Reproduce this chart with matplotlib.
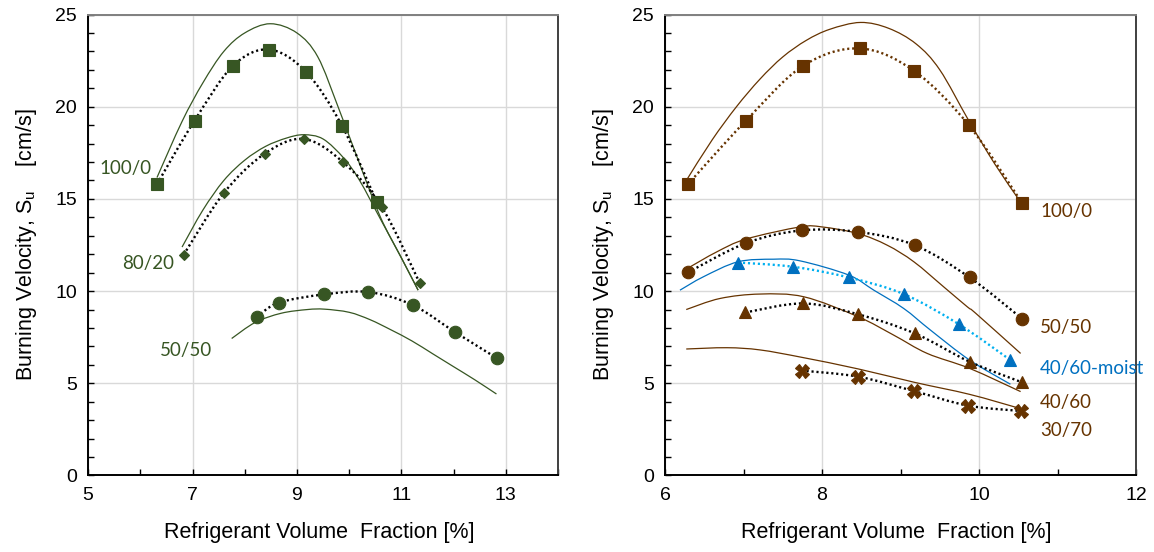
import matplotlib
matplotlib.use("Agg")
import matplotlib.pyplot as plt
import numpy as np
from matplotlib.path import Path
from matplotlib.patches import PathPatch

plt.rcParams["font.family"] = ["Liberation Sans", "DejaVu Sans"]
plt.rcParams["mathtext.fontset"] = "custom"
plt.rcParams["mathtext.rm"] = "Liberation Sans"
plt.rcParams["mathtext.it"] = "Liberation Sans"

# 配色
GREEN = "#375623"
BROWN = "#663300"
BLUE = "#0070C0"
SKY = "#00B0F0"
GRID = "#d9d9d9"
TAG_FONT = ["Lato", "DejaVu Sans"]

# ---------------- 左图 ----------------
l100_x = [6.32, 7.04, 7.77, 8.46, 9.17, 9.86, 10.53]
l100_y = [15.8, 19.25, 22.2, 23.1, 21.9, 18.98, 14.82]
l100_fit_x = [6.32, 6.8, 7.2, 7.6, 8.0, 8.49, 9.0, 9.4, 9.8, 10.2, 10.6, 11.0, 11.32]
l100_fit_y = [16.16, 19.2, 21.3, 23.0, 24.0, 24.5, 24.0, 22.7, 19.9, 16.9, 14.0, 11.8, 10.05]

l80_x = [6.83, 7.6, 8.38, 9.13, 9.88, 10.62, 11.35]
l80_y = [11.97, 15.32, 17.45, 18.25, 17.0, 14.58, 10.44]
l80_fit_x = [6.8, 7.2, 7.6, 8.0, 8.4, 8.8, 9.13, 9.5, 9.9, 10.2, 10.6, 11.0, 11.32]
l80_fit_y = [12.39, 14.4, 16.0, 17.1, 17.85, 18.3, 18.48, 18.25, 17.2, 16.0, 13.9, 11.8, 10.05]

l50_x = [8.23, 8.65, 9.52, 10.37, 11.22, 12.03, 12.83]
l50_y = [8.6, 9.37, 9.82, 9.95, 9.24, 7.77, 6.36]
l50_fit_x = [7.75, 8.2, 8.7, 9.2, 9.53, 10.0, 10.4, 10.8, 11.2, 11.6, 12.0, 12.4, 12.82]
l50_fit_y = [7.43, 8.3, 8.8, 9.0, 9.02, 8.85, 8.45, 7.9, 7.3, 6.6, 5.9, 5.2, 4.42]

# ---------------- 右图 ----------------
r100_x = [6.29, 7.03, 7.76, 8.48, 9.17, 9.87, 10.55]
r100_y = [15.79, 19.24, 22.22, 23.16, 21.95, 19.0, 14.77]
r100_fit_x = [6.28, 6.6, 6.91, 7.21, 7.5, 7.8, 8.1, 8.49, 8.85, 9.2, 9.5, 9.87, 10.2, 10.51]
r100_fit_y = [16.06, 18.2, 20.0, 21.5, 22.7, 23.6, 24.2, 24.57, 24.25, 23.4, 22.0, 19.24, 16.9, 14.95]

r50_x = [6.29, 7.03, 7.74, 8.46, 9.18, 9.88, 10.55]
r50_y = [11.01, 12.6, 13.29, 13.21, 12.49, 10.74, 8.5]
r50_fit_x = [6.285, 6.66, 7.03, 7.72, 8.0, 8.46, 8.83, 9.17, 9.55, 9.85, 9.96, 10.53]
r50_fit_y = [11.23, 12.13, 12.82, 13.48, 13.48, 13.12, 12.49, 11.59, 10.23, 9.15, 8.79, 6.62]

moist_x = [6.93, 7.63, 8.34, 9.04, 9.74, 10.4]
moist_y = [11.55, 11.32, 10.74, 9.84, 8.21, 6.26]
moist_fit_x = [6.19, 6.49, 6.93, 7.38, 7.72, 8.34, 8.66, 9.04, 9.38, 9.88, 10.4]
moist_fit_y = [10.05, 10.78, 11.59, 11.73, 11.64, 10.87, 10.05, 9.06, 7.89, 6.26, 4.95]

r40_x = [7.02, 7.76, 8.46, 9.18, 9.88, 10.55]
r40_y = [8.84, 9.33, 8.74, 7.71, 6.17, 5.05]
r40_fit_x = [6.27, 6.70, 7.21, 7.77, 8.46, 8.91, 9.34, 9.88, 10.53]
r40_fit_y = [9.0, 9.6, 9.84, 9.69, 8.61, 7.62, 6.62, 5.81, 4.55]

r30_x = [7.74, 8.46, 9.17, 9.86, 10.53]
r30_y = [5.69, 5.36, 4.58, 3.79, 3.5]
r30_fit_x = [6.27, 6.79, 7.21, 7.74, 8.46, 9.18, 9.88, 10.51]
r30_fit_y = [6.86, 6.93, 6.81, 6.41, 5.78, 5.05, 4.4, 3.65]

DOT = (0, (0.9, 1.2))


def smooth(ax, x, y, color, lw, ls="-", zorder=3):
    """Excel 风格平滑线：Catmull-Rom 转三次 Bezier。"""
    pts = np.column_stack([x, y]).astype(float)
    n = len(pts)
    verts, codes = [pts[0]], [Path.MOVETO]
    for i in range(n - 1):
        p0 = pts[i - 1] if i > 0 else pts[i]
        p1, p2 = pts[i], pts[i + 1]
        p3 = pts[i + 2] if i + 2 < n else pts[i + 1]
        verts += [p1 + (p2 - p0) / 6, p2 - (p3 - p1) / 6, p2]
        codes += [Path.CURVE4] * 3
    ax.add_patch(PathPatch(Path(verts, codes), fill=False, edgecolor=color,
                           lw=lw, linestyle=ls, zorder=zorder, capstyle="butt"))


def series(ax, x, y, fx, fy, color, marker, ms, dotc="black"):
    smooth(ax, fx, fy, color, 0.9, "-", 2)
    smooth(ax, x, y, dotc, 1.7, DOT, 3)
    ax.plot(x, y, ls="none", marker=marker, ms=ms, color=color,
            mec=color, mew=0.8, zorder=4)


def setup(ax, xmin, xmax, xmajor):
    ax.set_xlim(xmin, xmax)
    ax.set_ylim(0, 25)
    ax.set_xticks(xmajor)
    ax.set_xticks(np.arange(xmin, xmax + 0.5, 1), minor=True)
    ax.set_yticks(np.arange(0, 26, 5))
    ax.set_yticks(np.arange(0, 26, 1), minor=True)
    ax.grid(which="major", color=GRID, lw=1.0)
    ax.set_axisbelow(True)
    ax.tick_params(which="both", direction="in", top=False, right=False,
                   length=4, width=1.0, color="black", labelsize=14, pad=8)
    ax.spines["left"].set_color("black")
    ax.spines["bottom"].set_color("black")
    ax.spines["top"].set_color("#7f7f7f")
    ax.spines["right"].set_color("#404040")
    for s in ax.spines.values():
        s.set_linewidth(1.4)
    ax.set_xlabel("Refrigerant Volume  Fraction [%]", fontsize=15.5)
    ax.set_ylabel("Burning Velocity, S$_\\mathregular{u}$    [cm/s]", fontsize=15.5)
    ax.xaxis.set_label_coords(0.491, -0.10)
    ax.yaxis.set_label_coords(-0.105, 0.50)


fig = plt.figure(figsize=(11.54, 5.52), dpi=100)
ax1 = fig.add_axes([0.0763, 0.1386, 0.4073, 0.8351])
ax2 = fig.add_axes([0.5763, 0.1386, 0.4081, 0.8351])

setup(ax1, 5, 14, [5, 7, 9, 11, 13])
setup(ax2, 6, 12, [6, 8, 10, 12])

series(ax1, l100_x, l100_y, l100_fit_x, l100_fit_y, GREEN, "s", 9)
series(ax1, l80_x, l80_y, l80_fit_x, l80_fit_y, GREEN, "D", 5.5)
series(ax1, l50_x, l50_y, l50_fit_x, l50_fit_y, GREEN, "o", 9)

series(ax2, r100_x, r100_y, r100_fit_x, r100_fit_y, BROWN, "s", 9, dotc=BROWN)
series(ax2, r50_x, r50_y, r50_fit_x, r50_fit_y, BROWN, "o", 9)
series(ax2, moist_x, moist_y, moist_fit_x, moist_fit_y, BLUE, "^", 9, dotc=SKY)
series(ax2, r40_x, r40_y, r40_fit_x, r40_fit_y, BROWN, "^", 9)
series(ax2, r30_x, r30_y, r30_fit_x, r30_fit_y, BROWN, "X", 9.5)

# 曲线标签
for t, x, y in [("100/0", 5.21, 16.65), ("80/20", 5.66, 11.5), ("50/50", 6.38, 6.8)]:
    ax1.text(x, y, t, color=GREEN, fontsize=13.5, family=TAG_FONT, va="center")
for t, y, c in [("100/0", 14.34, BROWN), ("50/50", 8.02, BROWN), ("40/60-moist", 5.82, BLUE),
                ("40/60", 3.94, BROWN), ("30/70", 2.43, BROWN)]:
    ax2.text(10.78, y, t, color=c, fontsize=13.5, family=TAG_FONT, va="center")

fig.savefig("out.png", dpi=100)
